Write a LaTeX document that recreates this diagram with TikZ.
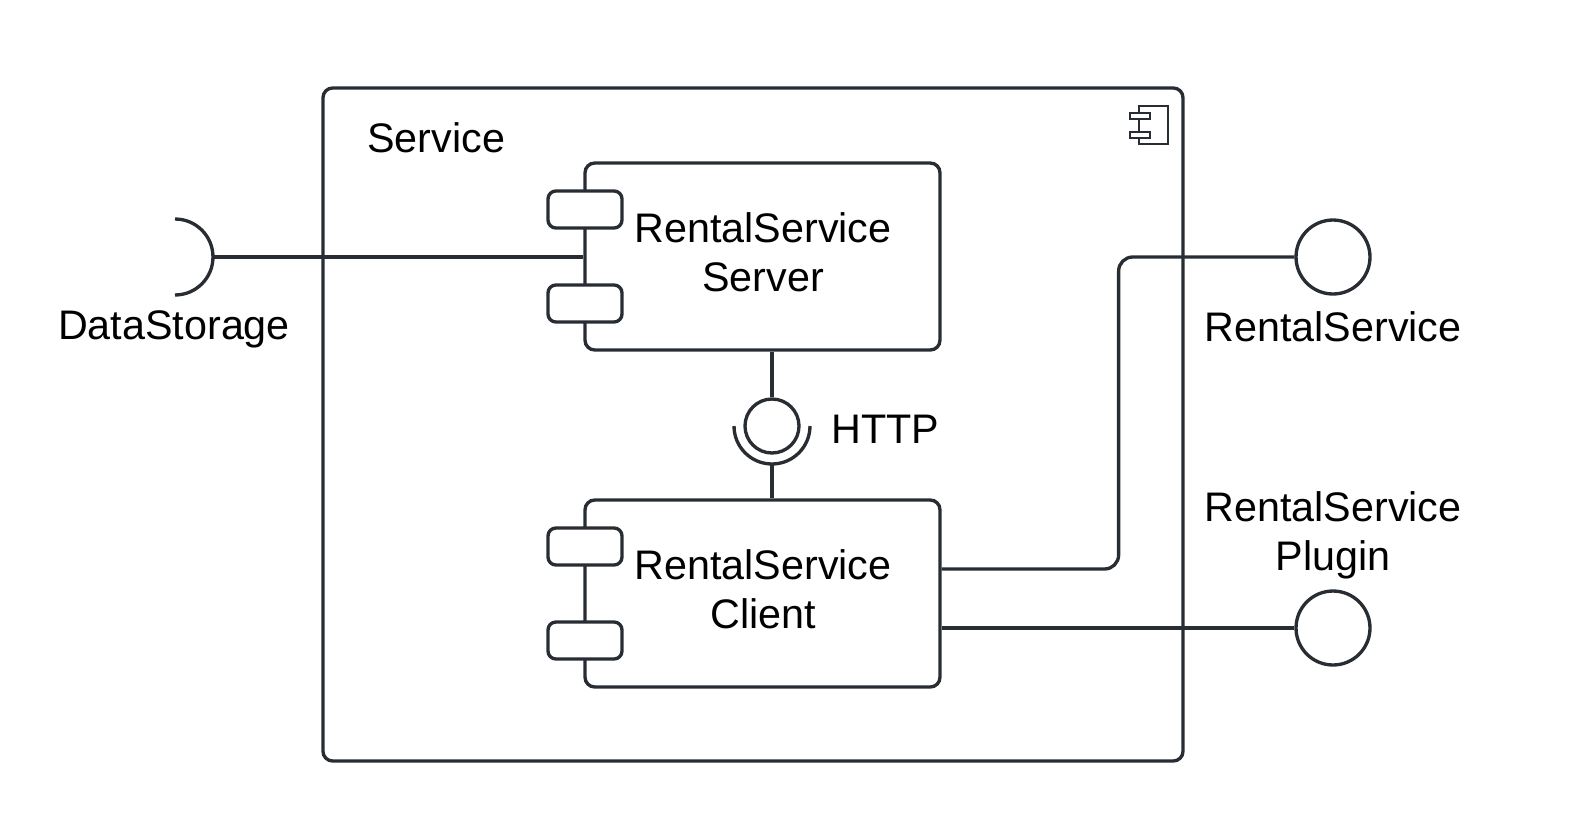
\documentclass[tikz,border=0pt]{standalone}
\usepackage{fontspec}
\setmainfont{Liberation Sans}
\usetikzlibrary{positioning,calc}

\definecolor{ink}{HTML}{282C33}

\tikzset{
    comp/.style={draw=ink, line width=1.9pt, rounded corners=5.5pt, minimum width=7.1cm, minimum height=3.74cm},
    tab/.style={draw=ink, line width=1.9pt, fill=white, rounded corners=4.5pt, minimum width=1.48cm, minimum height=0.74cm, inner sep=0pt},
    iface/.style={circle, draw=ink, line width=1.9pt, fill=white, inner sep=0pt, minimum size=1.48cm},
    wire/.style={draw=ink, line width=1.9pt},
    lbl/.style={font=\fontsize{23.5}{28}\selectfont, text=black, align=center, inner sep=0pt}
}

\begin{document}
\begin{tikzpicture}[x=0.02cm,y=-0.02cm]
    \useasboundingbox (0,0) rectangle (1572,839);

    % outer component
    \draw[wire, rounded corners=5.5pt] (323,88) rectangle (1183,761);
    \node[lbl, anchor=west] (service) at (367,138) {Service};
    % component glyph
    \draw[ink, line width=1.2pt, fill=white] (1139,106) rectangle (1168,144);
    \draw[ink, line width=1.2pt, fill=white] (1130,113) rectangle (1150,119);
    \draw[ink, line width=1.2pt, fill=white] (1130,132) rectangle (1150,138);

    % inner components
    \node[comp] (server) at (762.5,256.5) {};
    \node[comp] (client) at (762.5,593.5) {};
    \foreach \y in {191, 285, 528, 622} {
        \node[tab] at (585,\y+18.5) {};
    }
    \node[lbl] (servertxt) at (763,252) {RentalService\\Server};
    \node[lbl] (clienttxt) at (763,589) {RentalService\\Client};

    % HTTP lollipop and socket
    \node[iface, minimum size=1.08cm] (http) at (772,426) {};
    \coordinate (httpc) at (772,426);
    \draw[wire] ([xshift=-0.76cm]httpc) arc[start angle=180, end angle=360, radius=0.76cm];
    \coordinate (httpsock) at (772,464);
    \draw[wire] (http.north) -- (http.north |- server.south);
    \draw[wire] (httpsock) -- (httpsock |- client.north);
    \node[lbl, anchor=west] (httptxt) at (831,429) {HTTP};

    % required interface DataStorage
    \coordinate (dsc) at (175,257);
    \draw[wire] ([yshift=-0.76cm]dsc) arc[start angle=-90, end angle=90, radius=0.76cm];
    \coordinate (dsend) at ([xshift=0.76cm]dsc);
    \draw[wire] (dsend) -- (dsend -| server.west);
    \node[lbl] (dstxt) at (174,329) {DataStorage};

    % provided interfaces
    \node[iface] (rs) at (1333,257) {};
    \node[iface] (plugin) at (1333,628) {};
    \draw[wire, rounded corners=8pt] ($(client.east)+(0,-24.5)$) -- ++(177,0) |- (rs.west);
    \draw[wire] (plugin.west) -- (plugin.west -| client.east);
    \node[lbl] (rstxt) at (1333,327) {RentalService};
    \node[lbl] (plugintxt) at (1333,535) {RentalService\\Plugin};
\end{tikzpicture}
\end{document}
